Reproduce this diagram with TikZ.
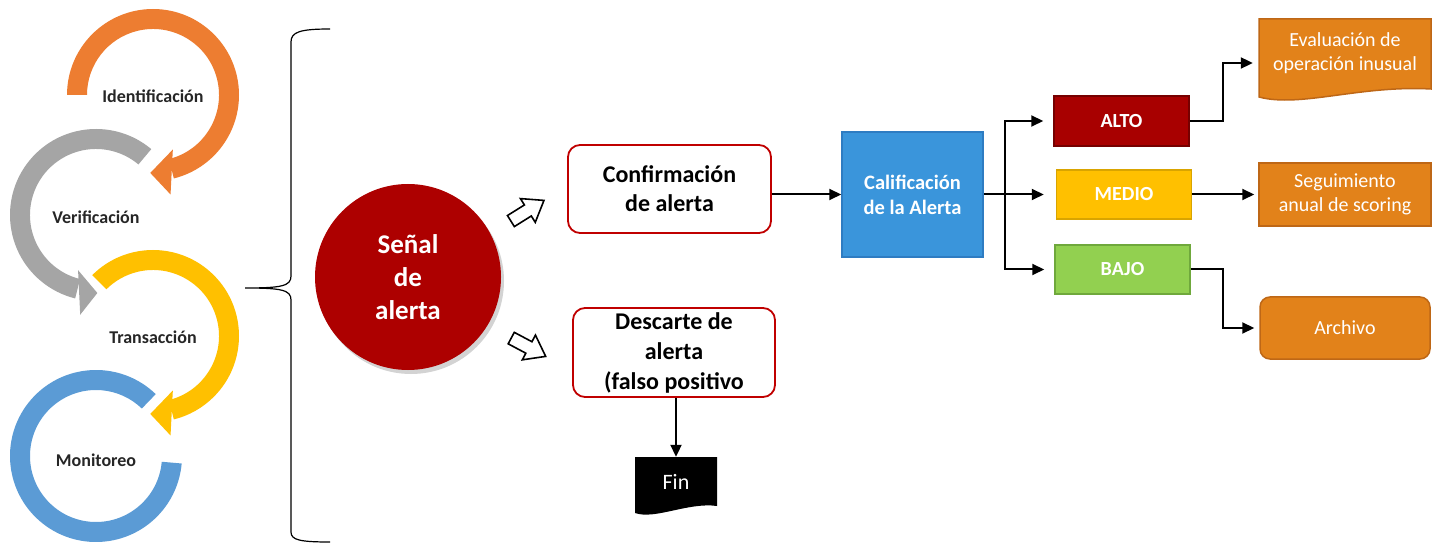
\documentclass[tikz,border=0pt]{standalone}
\usepackage{fontspec}
\setmainfont{Carlito}
\usetikzlibrary{calc,arrows.meta,shadows}
\definecolor{ringO}{HTML}{ED7D31}
\definecolor{ringG}{HTML}{A5A5A5}
\definecolor{ringY}{HTML}{FFC000}
\definecolor{ringB}{HTML}{5B9BD5}
\definecolor{sigred}{HTML}{AD0000}
\definecolor{boxred}{HTML}{C00000}
\definecolor{calfill}{HTML}{3A95DB}
\definecolor{caldraw}{HTML}{2E7CC2}
\definecolor{altofill}{HTML}{A80000}
\definecolor{altodraw}{HTML}{760000}
\definecolor{mediofill}{HTML}{FFC000}
\definecolor{mediodraw}{HTML}{D9A400}
\definecolor{bajofill}{HTML}{92D050}
\definecolor{bajodraw}{HTML}{6FA83C}
\definecolor{orfill}{HTML}{E2821A}
\definecolor{ordraw}{HTML}{BE6716}
\newcommand{\ringseg}[4]{%
  \fill[#4] ($(#1)+(#2:86pt)$) arc[start angle=#2, end angle=#3, radius=86pt]
    -- ($(#1)+(#3:66pt)$) arc[start angle=#3, end angle=#2, radius=66pt] -- cycle;}
\newcommand{\ringhead}[5]{%
  \fill[#5] ($(#1)+(#2:58pt)$) -- ($(#1)+(#4:78pt)$) -- ($(#1)+(#3:101pt)$) -- cycle;}
\begin{document}
\begin{tikzpicture}[x=1pt,y=1pt,
  arr/.style={line width=2pt, -{Triangle[length=12pt,width=11pt]}},
  lbl/.style={font=\fontsize{18}{20}\selectfont\bfseries, text=black!85},
  redbox/.style={draw=boxred, line width=1.8pt, fill=white, rounded corners=12pt,
    inner sep=0pt, align=center, text=black},
  lvl/.style={line width=1.5pt, inner sep=0pt, minimum width=135pt, minimum height=50pt,
    text=white, font=\fontsize{20}{24}\selectfont\bfseries},
  ortext/.style={inner sep=0pt, text=white, align=center, font=\fontsize{20}{24.5}\selectfont},
  blockarrow/.pic={\draw[line width=1.6pt, fill=white, line join=miter]
     (-19,-6.5) -- (1,-6.5) -- (1,-14) -- (20,0) -- (1,14) -- (1,6.5) -- (-19,6.5) -- cycle;}
]
\useasboundingbox (0,0) rectangle (1432,544);

% ---- circular process on the left ----
\coordinate (cO) at (153,449);
\coordinate (cG) at (96,329);
\coordinate (cY) at (153,208);
\coordinate (cB) at (96,88);
\ringseg{cB}{46}{355}{ringB}
\ringseg{cY}{135}{-76}{ringY}
\ringhead{cY}{-70}{-80}{-92}{ringY}
\ringseg{cG}{50}{256}{ringG}
\ringhead{cG}{252}{261}{271}{ringG}
\ringseg{cO}{180}{-76}{ringO}
\ringhead{cO}{-70}{-80}{-92}{ringO}
\node[lbl] (ident) at (153,448) {Identificación};
\node[lbl] (verif) at (96,327) {Verificación};
\node[lbl] (trans) at (153,207) {Transacción};
\node[lbl] (monit) at (96,84) {Monitoreo};

% ---- brace ----
\draw[line width=1.2pt] (330,515) .. controls (300,515) and (291,512) .. (291,502)
  -- (291,268) .. controls (291,258) and (282,256) .. (245,256)
  .. controls (282,256) and (291,254) .. (291,244)
  -- (291,12) .. controls (291,4) and (300,2) .. (330,2);

% ---- signal circle ----
\node[circle, fill=sigred, minimum size=186pt, inner sep=0pt, text=white, align=center,
  font=\fontsize{27}{33}\selectfont\bfseries,
  drop shadow={opacity=0.35, shadow xshift=3pt, shadow yshift=-4pt}]
  (signal) at (408,267) {Señal\\de\\alerta};

% ---- block arrows ----
\pic[rotate=32] at (527,333) {blockarrow};
\pic[rotate=-28] at (528,197) {blockarrow};

% ---- confirm / discard ----
\node[redbox, minimum width=203pt, minimum height=88pt,
  font=\fontsize{24}{29}\selectfont\bfseries] (conf) at (669.5,355) {Confirmación\\de alerta};
\node[redbox, minimum width=202pt, minimum height=89pt,
  font=\fontsize{24}{30}\selectfont\bfseries] (desc) at (674,191.5) {Descarte de\\alerta\\(falso positivo};

% Fin document shape
\fill[black] (717,38) -- (717,87) -- (635,87) -- (635,31)
  .. controls (655,24) and (688,42) .. (717,38) -- cycle;
\node[inner sep=0pt, minimum width=82pt, minimum height=50pt, text=white,
  font=\fontsize{22}{26}\selectfont] (fin) at (676,62) {Fin};
\draw[arr] (desc.south -| fin.north) -- (fin.north);

% ---- calificacion ----
\node[fill=calfill, draw=caldraw, line width=1.5pt, minimum width=141pt, minimum height=125pt,
  inner sep=0pt, text=white, align=center, font=\fontsize{20.5}{25}\selectfont\bfseries]
  (cal) at (912.5,349.5) {Calificación\\de la Alerta};
\draw[arr] (conf.east |- cal.west) -- (cal.west);

% ---- levels ----
\node[lvl, fill=altofill, draw=altodraw] (alto) at (1121.5,423) {ALTO};
\node[lvl, fill=mediofill, draw=mediodraw, minimum height=49pt] (medio) at (1124,349.5) {MEDIO};
\node[lvl, fill=bajofill, draw=bajodraw, minimum height=49pt] (bajo) at (1122.5,274.5) {BAJO};
\coordinate (br) at (1005,349.5);
\draw[arr, shorten >=12pt] (cal.east) -- (medio.west);
\draw[arr, shorten >=10pt] (br) |- (alto.west);
\draw[arr, shorten >=10pt] (br) |- (bajo.west);

% ---- outcomes ----
\fill[orfill] (1259,447) .. controls (1300,436) and (1360,459) .. (1431,455)
  -- (1431,525) -- (1259,525) -- cycle;
\draw[ordraw, line width=1.5pt] (1259,447) .. controls (1300,436) and (1360,459) .. (1431,455)
  -- (1431,525) -- (1259,525) -- cycle;
\node[ortext, minimum width=172pt] (eval) at (1345,491) {Evaluación de\\operación inusual};
\node[ortext, fill=orfill, draw=ordraw, line width=1.5pt, minimum width=172pt, minimum height=63pt]
  (seg) at (1345,349.5) {Seguimiento\\anual de scoring};
\node[ortext, fill=orfill, draw=ordraw, line width=1.5pt, rounded corners=10pt,
  minimum width=170pt, minimum height=62pt] (arch) at (1345,216) {Archivo};

\draw[arr, shorten >=6pt] (alto.east) -- ++(33,0) |- ([yshift=-10pt]eval.west);
\draw[arr, shorten >=4pt] (medio.east) -- (seg.west);
\draw[arr, shorten >=5pt] (bajo.east) -- ++(32,0) |- (arch.west);
\end{tikzpicture}
\end{document}
